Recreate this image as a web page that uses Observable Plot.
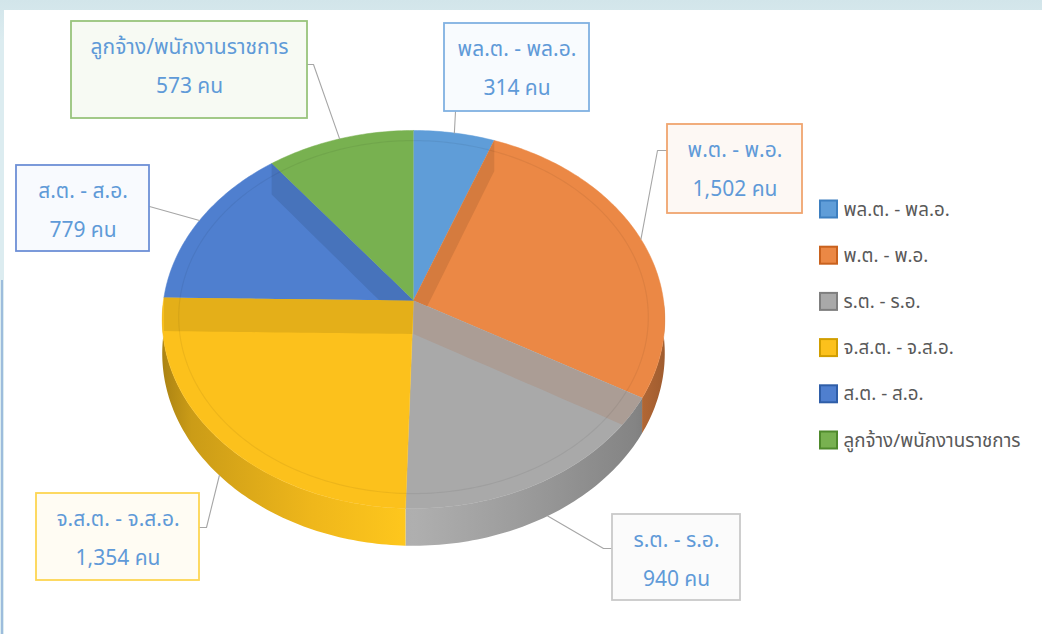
<!DOCTYPE html>
<html><head><meta charset="utf-8">
<script src="https://cdn.jsdelivr.net/npm/d3@7"></script>
<script src="https://cdn.jsdelivr.net/npm/@observablehq/plot@0.6"></script>
<style>
html,body{margin:0;padding:0;width:1042px;height:634px;overflow:hidden;}
body{background:linear-gradient(#d2e5ea,#dcecf0 40px);position:relative;}
#paper{position:absolute;left:4px;top:10px;right:0;bottom:0;background:#fff;}
#edge{position:absolute;left:1px;top:280px;width:2px;bottom:0;background:#9dbcdc;}
#chart{position:absolute;left:0;top:0;}
g[aria-label="box"] rect{filter:drop-shadow(2px 3px 2px rgba(0,0,0,0.2));}
</style></head><body>
<div id="paper"></div><div id="edge"></div><div id="chart"></div>
<script>
// ---- data ----
const categories = ["พล.ต. - พล.อ.", "พ.ต. - พ.อ.", "ร.ต. - ร.อ.", "จ.ส.ต. - จ.ส.อ.", "ส.ต. - ส.อ.", "ลูกจ้าง/พนักงานราชการ"];
const values = [314, 1502, 940, 1354, 779, 573];
const unitLabel = "คน";

// ---- styles ----
const colors = ["#5f9dd8", "#eb8845", "#a9a9a9", "#fcc11c", "#4f7fcf", "#78b150"];
const boxFills = ["#f8fbfe", "#fdf8f4", "#fbfbfb", "#fffcf3", "#f8fafe", "#f7faf3"];
const boxStrokes = ["#80b1e2", "#f0a56f", "#c9c9c9", "#fdd552", "#6d8fd6", "#98c47c"];
const legendStrokes = ["#3d7fc0", "#c9621e", "#7f7f7f", "#d19e00", "#2f5ea8", "#4f8a2c"];
const textBlue = "#5f9ad8";
const thaiFont = "Tahoma, 'Leelawadee UI', 'Noto Sans Thai', 'Noto Sans', sans-serif";

// ---- layout (pixels) ----
const pie = {cx: 413, cy: 300, rx: 250, ry: 187.1, persp: 0.1005, depth: 33.5};
const labelBoxes = [
  {x1: 444, y1: 23, x2: 589, y2: 111, ax: 455, ay: 111, ex: null},
  {x1: 667, y1: 124, x2: 802, y2: 213, ax: 667, ay: 150, ex: 657},
  {x1: 612, y1: 514, x2: 740, y2: 600, ax: 612, ay: 548, ex: 603},
  {x1: 36, y1: 493, x2: 199, y2: 580, ax: 199, ay: 527, ex: 206},
  {x1: 16, y1: 165, x2: 149, y2: 251, ax: 149, ay: 206, ex: null},
  {x1: 71, y1: 21, x2: 307, y2: 118, ax: 307, ay: 64, ex: 313}
];
const legend = {x: 820, y0: 209, dy: 46.2, size: 17};

// ---- geometry from data ----
const total = d3.sum(values);
const cum = d3.cumsum(values);
const slices = values.map((v, i) => ({
  i, name: categories[i], value: v,
  a0: ((cum[i] - v) / total) * 360,
  a1: (cum[i] / total) * 360
}));
function proj(a, r = 1, dz = 0) {
  const phi = (a - 90) * Math.PI / 180;
  const s = 1 / (1 - pie.persp * r * Math.sin(phi));
  return {x: pie.cx + pie.rx * r * Math.cos(phi) * s, y: pie.cy + pie.ry * r * Math.sin(phi) * s + pie.depth * s * dz};
}
function arc(a0, a1, r = 1, dz = 0) {
  const n = Math.max(2, Math.ceil(Math.abs(a1 - a0)));
  return d3.range(n + 1).map(k => proj(a0 + (a1 - a0) * k / n, r, dz));
}
function shoelace(poly) {
  let s = 0;
  for (let k = 0; k < poly.length; k++) {
    const p = poly[k], q = poly[(k + 1) % poly.length];
    s += p.x * q.y - q.x * p.y;
  }
  return s / 2;
}
// Sutherland–Hodgman clip of polygon by convex polygon
function clipPoly(subject, clip) {
  const sgn = shoelace(clip) > 0 ? 1 : -1;
  let out = subject;
  for (let k = 0; k < clip.length; k++) {
    const A = clip[k], B = clip[(k + 1) % clip.length];
    if (Math.hypot(B.x - A.x, B.y - A.y) < 1e-9) continue;
    const side = p => sgn * ((B.x - A.x) * (p.y - A.y) - (B.y - A.y) * (p.x - A.x));
    const input = out; out = [];
    if (!input.length) break;
    for (let j = 0; j < input.length; j++) {
      const P = input[j], Q = input[(j + 1) % input.length];
      const sp = side(P), sq = side(Q);
      if (sp >= -1e-9) out.push(P);
      if ((sp >= -1e-9) !== (sq >= -1e-9)) {
        const t = sp / (sp - sq);
        out.push({x: P.x + (Q.x - P.x) * t, y: P.y + (Q.y - P.y) * t});
      }
    }
  }
  return out;
}
const topFaces = slices.map(s => [proj(0, 0), ...arc(s.a0, s.a1)]);
const sideFaces = slices.map(s => {
  const b0 = Math.max(s.a0, 90), b1 = Math.min(s.a1, 270);
  if (b1 <= b0) return null;
  return [...arc(b0, b1, 1, 0), ...arc(b1, b0, 1, 1)];
});
// visible radial cut faces (seen through the top), clipped to owning slice
const bands = [];
slices.forEach((s, i) => {
  const a = s.a0 % 360;
  if (a < 1 || Math.abs(a - 180) < 5) return;
  const owner = a < 180 ? i : (i - 1 + slices.length) % slices.length;
  const raw = [...d3.range(0, 1.001, 0.05).map(r => proj(a, r, 0)),
               ...d3.range(1, -0.001, -0.05).map(r => proj(a, r, 1))];
  const poly = clipPoly(raw, topFaces[owner]);
  let c = d3.color(colors[owner]).darker(0.28);
  if (owner === 2) c = d3.color(d3.interpolateRgb(colors[2], colors[1])(0.14)).darker(0.12);
  if (poly.length > 2) bands.push({poly: [...poly, poly[0]], color: c.formatHex()});
});
const ring = arc(0, 360, 0.935);

// leaders
const leaders = slices.map((s, i) => {
  const am = (s.a0 + s.a1) / 2;
  const front = Math.sin((am - 90) * Math.PI / 180) > 0;
  const end = proj(am, 1, front ? 1 : 0);
  const b = labelBoxes[i];
  const pts = [{x: b.ax, y: b.ay}];
  if (b.ex != null) pts.push({x: b.ex, y: b.ay});
  pts.push(end);
  return pts.map(p => ({...p, id: i}));
}).flat();

const boxes = slices.map((s, i) => ({...labelBoxes[i], i}));
const fmt = d3.format(",");
const labelTexts = slices.flatMap((s, i) => {
  const b = labelBoxes[i];
  const xc = (b.x1 + b.x2) / 2;
  return [{x: xc, y: b.y1 + 26, t: s.name}, {x: xc, y: b.y1 + 65, t: `${fmt(s.value)} ${unitLabel}`}];
});
const legendItems = slices.map((s, i) => ({
  i, name: s.name,
  x1: legend.x, x2: legend.x + legend.size,
  y1: legend.y0 + i * legend.dy - legend.size / 2, y2: legend.y0 + i * legend.dy + legend.size / 2,
  tx: legend.x + legend.size + 6, ty: legend.y0 + i * legend.dy
}));

function defsMark() {
  const ns = "http://www.w3.org/2000/svg";
  const defs = document.createElementNS(ns, "defs");
  const xl = pie.cx - pie.rx - 2, xr = pie.cx + pie.rx + 2;
  colors.forEach((c, i) => {
    const g = document.createElementNS(ns, "linearGradient");
    g.setAttribute("id", "side" + i);
    g.setAttribute("gradientUnits", "userSpaceOnUse");
    g.setAttribute("x1", xl); g.setAttribute("x2", xr);
    g.setAttribute("y1", 0); g.setAttribute("y2", 0);
    [[0, d3.color(c).darker(1.1)], [0.06, d3.color(c).darker(0.6)], [0.3, d3.color(c).darker(0.15)],
     [0.5, d3.color(c).brighter(0.1)], [0.7, d3.color(c).darker(0.2)], [0.94, d3.color(c).darker(0.7)],
     [1, d3.color(c).darker(1.1)]].forEach(([o, col]) => {
      const st = document.createElementNS(ns, "stop");
      st.setAttribute("offset", o);
      st.setAttribute("stop-color", col.formatHex());
      g.appendChild(st);
    });
    defs.appendChild(g);
  });
  return defs;
}

const marks = [defsMark];
sideFaces.forEach((f, i) => { if (f) marks.push(Plot.line(f, {x: "x", y: "y", fill: `url(#side${i})`, stroke: "none"})); });
topFaces.forEach((f, i) => marks.push(Plot.line(f, {x: "x", y: "y", fill: colors[i], stroke: colors[i], strokeWidth: 0.5})));
bands.forEach(b => marks.push(Plot.line(b.poly, {x: "x", y: "y", fill: b.color, stroke: "none"})));
marks.push(Plot.line(ring, {x: "x", y: "y", stroke: "#000", strokeOpacity: 0.06, strokeWidth: 1.2}));
marks.push(Plot.line(leaders, {x: "x", y: "y", z: "id", stroke: "#a6a6a6", strokeWidth: 1.1, curve: "linear"}));
marks.push(Plot.rect(boxes, {x1: "x1", x2: "x2", y1: "y1", y2: "y2", fill: d => boxFills[d.i], stroke: d => boxStrokes[d.i], strokeWidth: 1.8, ariaLabel: "box"}));
marks.push(Plot.text(labelTexts, {x: "x", y: "y", text: "t", fill: textBlue, fontSize: 21, fontFamily: thaiFont, textAnchor: "middle"}));
marks.push(Plot.rect(legendItems, {x1: "x1", x2: "x2", y1: "y1", y2: "y2", fill: d => colors[d.i], stroke: d => legendStrokes[d.i], strokeWidth: 2}));
marks.push(Plot.text(legendItems, {x: "tx", y: "ty", text: "name", fill: "#595959", fontSize: 18.8, fontFamily: thaiFont, textAnchor: "start"}));

const chart = Plot.plot({
  width: 1042, height: 634, margin: 0,
  x: {type: "linear", domain: [0, 1042], range: [0, 1042], axis: null},
  y: {type: "linear", domain: [0, 634], range: [0, 634], axis: null},
  color: {type: "identity"},
  style: {background: "transparent", overflow: "visible"},
  marks
});
document.getElementById("chart").appendChild(chart);
</script>
</body></html>
